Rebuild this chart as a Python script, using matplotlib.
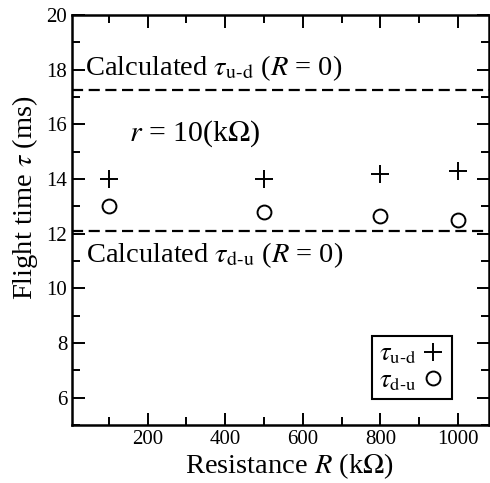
import matplotlib
matplotlib.use('Agg')
import matplotlib.pyplot as plt
from matplotlib.ticker import MultipleLocator

plt.rcParams['font.family'] = ['Liberation Serif', 'DejaVu Serif']
plt.rcParams['mathtext.fontset'] = 'stix'

# data
resistance = [100, 500, 800, 1000]          # kOhm
tau_ud = [14.0, 14.0, 14.2, 14.3]           # ms
tau_du = [13.0, 12.8, 12.65, 12.5]          # ms
calc_ud = 17.25
calc_du = 12.1

fig = plt.figure(figsize=(4.90, 4.83), dpi=100)
ax = fig.add_axes([0.147, 0.120, 0.851, 0.849])

ax.axhline(calc_ud, color='black', lw=1.6, ls=(0, (5, 2.5)))
ax.axhline(calc_du, color='black', lw=1.6, ls=(0, (5, 2.5)))

ax.plot(resistance, tau_ud, ls='none', marker='+', ms=13, mew=1.4, color='black',
        label=r'$\tau_{\mathrm{u\text{-}d}}$')
ax.plot(resistance, tau_du, ls='none', marker='o', ms=10, mew=1.4, mfc='none', mec='black',
        label=r'$\tau_{\mathrm{d\text{-}u}}$')

ax.text(38, 17.8, r'Calculated $\tau_{\mathrm{u\text{-}d}}$ ($R$ = 0)', fontsize=20.5,
        ha='left', va='baseline')
ax.text(152, 15.4, r'$r$ = 10(k$\Omega$)', fontsize=21.5, ha='left', va='baseline')
ax.text(42, 10.95, r'Calculated $\tau_{\mathrm{d\text{-}u}}$ ($R$ = 0)', fontsize=20.5,
        ha='left', va='baseline')

ax.set_xlim(5, 1080)
ax.set_ylim(5, 20)
ax.xaxis.set_major_locator(MultipleLocator(200))
ax.xaxis.set_minor_locator(MultipleLocator(100))
ax.yaxis.set_major_locator(MultipleLocator(2))
ax.yaxis.set_minor_locator(MultipleLocator(1))
ax.set_xticks([200, 400, 600, 800, 1000])
ax.tick_params(which='both', direction='in', top=True, right=True, width=1.4,
               labelsize=15)
ax.tick_params(which='major', length=9)
ax.tick_params(which='minor', length=6)
for s in ax.spines.values():
    s.set_linewidth(1.8)

ax.set_xlabel(r'Resistance $R$ (k$\Omega$)', fontsize=20.5)
ax.set_ylabel(r'Flight time $\tau$ (ms)', fontsize=20.5)
ax.xaxis.set_label_coords(0.52, -0.065)
ax.yaxis.set_label_coords(-0.077, 0.555)

leg = ax.legend(loc='lower right', bbox_to_anchor=(0.911, 0.063), markerfirst=False,
                fancybox=False, edgecolor='black', fontsize=19, handlelength=0.9,
                handletextpad=0.2, borderpad=0.25, labelspacing=0.08, borderaxespad=0,
                framealpha=1)
leg.get_frame().set_linewidth(1.5)

fig.savefig('out.png', dpi=100)
